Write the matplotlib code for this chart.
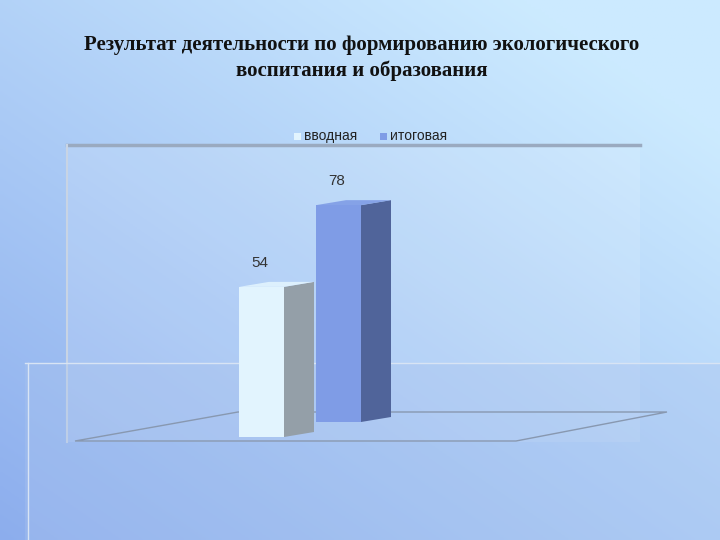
import numpy as np
import matplotlib
matplotlib.use("Agg")
import matplotlib.pyplot as plt
from matplotlib.patches import Polygon, Rectangle

categories = ["вводная", "итоговая"]
values = [54, 78]
front_colors = ["#e2f4fe", "#7f9ce6"]
side_colors = ["#949fa8", "#50649a"]
title = "Результат деятельности по формированию экологического\nвоспитания и образования"

fig = plt.figure(figsize=(7.2, 5.4), dpi=100)
ax = fig.add_axes([0, 0, 1, 1])
ax.set_xlim(0, 720); ax.set_ylim(0, 540); ax.axis("off")

# background gradient
yy, xx = np.mgrid[0:1:200j, 0:1:200j]
t = np.clip(0.55 * xx + 0.6 * yy, 0, 1)
top = np.array([0.80, 0.92, 1.0]); bot = np.array([0.55, 0.68, 0.93])
img = bot + (top - bot) * t[..., None]
ax.imshow(img, extent=[0, 720, 0, 540], origin="lower", aspect="auto", zorder=0)

# back wall and lower panel
ax.add_patch(Rectangle((67, 98), 573, 297, fc="white", alpha=0.12, ec="none", zorder=1))
ax.plot([67, 640], [395, 395], color="#9aaac0", lw=2.5, zorder=1)
ax.plot([67, 67], [98, 395], color="#c8d4e4", lw=1.5, zorder=1)
ax.add_patch(Rectangle((25, 0), 695, 177, fc="#a9c3ee", alpha=0.35, ec="none", zorder=1))
ax.plot([25, 720], [177, 177], color="#d8e4f4", lw=1, zorder=1)
ax.plot([28, 28], [0, 177], color="#d8e4f4", lw=1, zorder=1)
ax.add_patch(Polygon([(75, 99), (238, 128), (667, 128), (516, 99)], closed=True,
                     fc="none", ec="#8898b0", lw=1, zorder=2))

# bars
scale = 2.78
xs = [239, 316]
bases = [103, 118]
w, dx, dy = 45, 30, 5
for x0, b, v, fc, sc in zip(xs, bases, values, front_colors, side_colors):
    h = v * scale
    ax.bar(x0, h, width=w, bottom=b, align="edge", color=fc, zorder=3)
    ax.add_patch(Polygon([(x0 + w, b), (x0 + w + dx, b + dy), (x0 + w + dx, b + h + dy), (x0 + w, b + h)],
                         closed=True, fc=sc, ec="none", zorder=3))
    ax.add_patch(Polygon([(x0, b + h), (x0 + w, b + h), (x0 + w + dx, b + h + dy), (x0 + dx, b + h + dy)],
                         closed=True, fc=fc, ec="none", zorder=3, alpha=0.9))
    ax.text(x0 + w / 2 - 2, b + h + dy + 12, str(v), ha="center", va="bottom", fontsize=11,
            color="#333333", family="Liberation Sans", zorder=4)

# legend
lx = [294, 380]
for x, c, lab in zip(lx, front_colors, categories):
    ax.add_patch(Rectangle((x, 400), 7, 7, fc=c, ec="none", zorder=4))
    ax.text(x + 10, 404, lab, va="center", fontsize=10, color="#222222", family="Liberation Sans", zorder=4)

ax.text(362, 482, title, ha="center", va="center", fontsize=15, fontweight="bold",
        family="Liberation Serif", color="#111111", linespacing=1.35, zorder=4)

fig.savefig("out.png", dpi=100)
